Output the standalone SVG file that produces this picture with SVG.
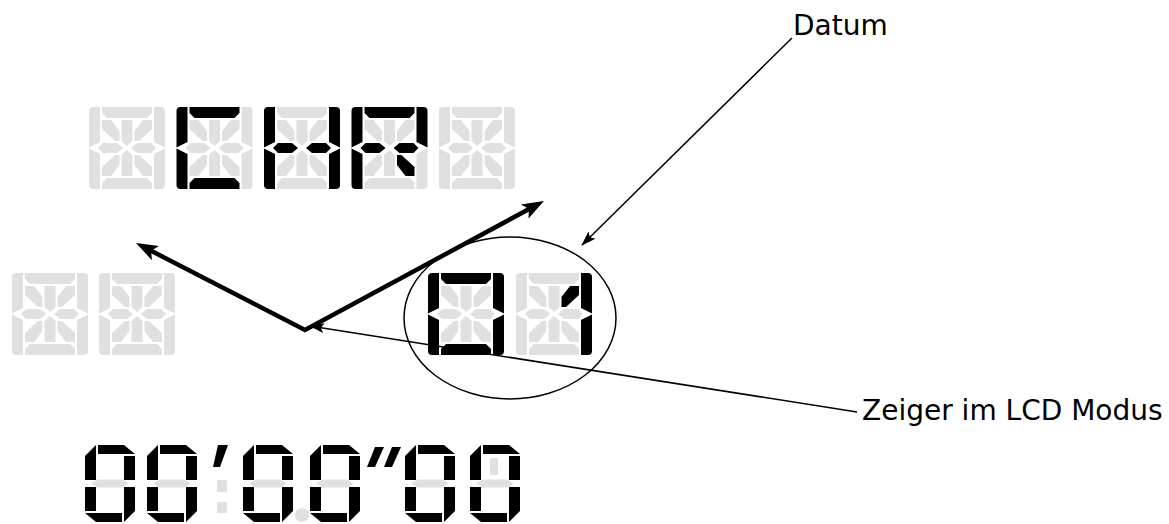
<svg xmlns="http://www.w3.org/2000/svg" xmlns:xlink="http://www.w3.org/1999/xlink" width="1169" height="524" viewBox="0 0 1169 524">
<style>
.off{fill:#e0e0e0}
.on{fill:#000}
.lbl{font-family:"DejaVu Sans","Verdana",sans-serif;font-size:28px;fill:#000}
.thick{fill:none;stroke:#000;stroke-width:4.5;stroke-linejoin:miter}
.thin{fill:none;stroke:#000;stroke-width:1.5}
</style>
<defs>
<path id="s_t" d="M13,0 H63 V6 L58,11 H18 L13,6 Z"/>
<path id="s_b" d="M13,82 H63 V76 L58,71 H18 L13,76 Z"/>
<path id="s_lu" d="M0,4 Q0,0 4,0 H11 V35 L0,40.5 Z"/>
<path id="s_ll" d="M0,41.5 L11,47 V82 H4 Q0,82 0,78 Z"/>
<path id="s_ru" d="M76,4 Q76,0 72,0 H65 V35 L76,40.5 Z"/>
<path id="s_rl" d="M76,41.5 L65,47 V82 H72 Q76,82 76,78 Z"/>
<path id="s_cu" d="M32.5,13 H43.5 V34 L38,39 L32.5,34 Z"/>
<path id="s_cl" d="M32.5,69 H43.5 V48 L38,43 L32.5,48 Z"/>
<path id="s_ml" d="M9,41 L14,36 H28 L34,41 L28,46 H14 Z"/>
<path id="s_mr" d="M67,41 L62,36 H48 L42,41 L48,46 H62 Z"/>
<path id="s_dul" d="M13,13 H22 L30.5,24 V34 H26 L13,22 Z"/>
<path id="s_dur" d="M63,13 H54 L45.5,24 V34 H50 L63,22 Z"/>
<path id="s_dll" d="M13,69 H22 L30.5,58 V48 H26 L13,60 Z"/>
<path id="s_dlr" d="M63,69 H54 L45.5,58 V48 H50 L63,60 Z"/>
<path id="g_a" d="M13,0 H39 L50,9 H13 Z"/>
<path id="g_b" d="M39,11 H50 V35 H39 Z"/>
<path id="g_c" d="M39,42 H50 V66 L39,77 Z"/>
<path id="g_d" d="M0,68 H37 V77 H11 Z"/>
<path id="g_e" d="M0,42 H11 V66 H0 Z"/>
<path id="g_f" d="M0,11 L11,0 V35 H0 Z"/>
<path id="g_g" d="M6,38.5 L12.5,34.5 H37.5 L44,38.5 L37.5,42.5 H12.5 Z"/>
<g id="zero7">
<use xlink:href="#g_g" class="off"/>
<use xlink:href="#g_a" class="on"/><use xlink:href="#g_b" class="on"/><use xlink:href="#g_c" class="on"/>
<use xlink:href="#g_d" class="on"/><use xlink:href="#g_e" class="on"/><use xlink:href="#g_f" class="on"/>
</g>
<marker id="headThick" markerUnits="userSpaceOnUse" markerWidth="24" markerHeight="18" refX="12" refY="8" orient="auto-start-reverse" viewBox="0 0 24 16">
<path d="M0,0 L22,8 L0,16 L5,8 Z" fill="#000"/>
</marker>
<marker id="headThin" markerUnits="userSpaceOnUse" markerWidth="16" markerHeight="12" refX="14" refY="5" orient="auto" viewBox="0 0 16 10">
<path d="M0,0 L15,5 L0,10 L3,5 Z" fill="#000"/>
</marker>
</defs>
<rect width="1169" height="524" fill="#fff"/>

<!-- top row 14-segment display -->
<g id="top-d1" transform="translate(89,107)">
<use xlink:href="#s_t" class="off"/><use xlink:href="#s_b" class="off"/><use xlink:href="#s_lu" class="off"/><use xlink:href="#s_ll" class="off"/><use xlink:href="#s_ru" class="off"/><use xlink:href="#s_rl" class="off"/><use xlink:href="#s_cu" class="off"/><use xlink:href="#s_cl" class="off"/><use xlink:href="#s_ml" class="off"/><use xlink:href="#s_mr" class="off"/><use xlink:href="#s_dul" class="off"/><use xlink:href="#s_dur" class="off"/><use xlink:href="#s_dll" class="off"/><use xlink:href="#s_dlr" class="off"/>
</g>
<g id="top-d2" transform="translate(176.5,107)">
<use xlink:href="#s_t" class="on"/><use xlink:href="#s_b" class="on"/><use xlink:href="#s_lu" class="on"/><use xlink:href="#s_ll" class="on"/><use xlink:href="#s_ru" class="off"/><use xlink:href="#s_rl" class="off"/><use xlink:href="#s_cu" class="off"/><use xlink:href="#s_cl" class="off"/><use xlink:href="#s_ml" class="off"/><use xlink:href="#s_mr" class="off"/><use xlink:href="#s_dul" class="off"/><use xlink:href="#s_dur" class="off"/><use xlink:href="#s_dll" class="off"/><use xlink:href="#s_dlr" class="off"/>
</g>
<g id="top-d3" transform="translate(264,107)">
<use xlink:href="#s_t" class="off"/><use xlink:href="#s_b" class="off"/><use xlink:href="#s_lu" class="on"/><use xlink:href="#s_ll" class="on"/><use xlink:href="#s_ru" class="on"/><use xlink:href="#s_rl" class="on"/><use xlink:href="#s_cu" class="off"/><use xlink:href="#s_cl" class="off"/><use xlink:href="#s_ml" class="on"/><use xlink:href="#s_mr" class="on"/><use xlink:href="#s_dul" class="off"/><use xlink:href="#s_dur" class="off"/><use xlink:href="#s_dll" class="off"/><use xlink:href="#s_dlr" class="off"/>
</g>
<g id="top-d4" transform="translate(351.5,107)">
<use xlink:href="#s_t" class="on"/><use xlink:href="#s_b" class="off"/><use xlink:href="#s_lu" class="on"/><use xlink:href="#s_ll" class="on"/><use xlink:href="#s_ru" class="on"/><use xlink:href="#s_rl" class="off"/><use xlink:href="#s_cu" class="off"/><use xlink:href="#s_cl" class="off"/><use xlink:href="#s_ml" class="on"/><use xlink:href="#s_mr" class="on"/><use xlink:href="#s_dul" class="off"/><use xlink:href="#s_dur" class="off"/><use xlink:href="#s_dll" class="off"/><use xlink:href="#s_dlr" class="on"/>
</g>
<g id="top-d5" transform="translate(439,107)">
<use xlink:href="#s_t" class="off"/><use xlink:href="#s_b" class="off"/><use xlink:href="#s_lu" class="off"/><use xlink:href="#s_ll" class="off"/><use xlink:href="#s_ru" class="off"/><use xlink:href="#s_rl" class="off"/><use xlink:href="#s_cu" class="off"/><use xlink:href="#s_cl" class="off"/><use xlink:href="#s_ml" class="off"/><use xlink:href="#s_mr" class="off"/><use xlink:href="#s_dul" class="off"/><use xlink:href="#s_dur" class="off"/><use xlink:href="#s_dll" class="off"/><use xlink:href="#s_dlr" class="off"/>
</g>

<!-- middle row 14-segment display -->
<g id="mid-d1" transform="translate(12,273)">
<use xlink:href="#s_t" class="off"/><use xlink:href="#s_b" class="off"/><use xlink:href="#s_lu" class="off"/><use xlink:href="#s_ll" class="off"/><use xlink:href="#s_ru" class="off"/><use xlink:href="#s_rl" class="off"/><use xlink:href="#s_cu" class="off"/><use xlink:href="#s_cl" class="off"/><use xlink:href="#s_ml" class="off"/><use xlink:href="#s_mr" class="off"/><use xlink:href="#s_dul" class="off"/><use xlink:href="#s_dur" class="off"/><use xlink:href="#s_dll" class="off"/><use xlink:href="#s_dlr" class="off"/>
</g>
<g id="mid-d2" transform="translate(99,273)">
<use xlink:href="#s_t" class="off"/><use xlink:href="#s_b" class="off"/><use xlink:href="#s_lu" class="off"/><use xlink:href="#s_ll" class="off"/><use xlink:href="#s_ru" class="off"/><use xlink:href="#s_rl" class="off"/><use xlink:href="#s_cu" class="off"/><use xlink:href="#s_cl" class="off"/><use xlink:href="#s_ml" class="off"/><use xlink:href="#s_mr" class="off"/><use xlink:href="#s_dul" class="off"/><use xlink:href="#s_dur" class="off"/><use xlink:href="#s_dll" class="off"/><use xlink:href="#s_dlr" class="off"/>
</g>
<g id="mid-d3" transform="translate(428,273)">
<use xlink:href="#s_t" class="on"/><use xlink:href="#s_b" class="on"/><use xlink:href="#s_lu" class="on"/><use xlink:href="#s_ll" class="on"/><use xlink:href="#s_ru" class="on"/><use xlink:href="#s_rl" class="on"/><use xlink:href="#s_cu" class="off"/><use xlink:href="#s_cl" class="off"/><use xlink:href="#s_ml" class="off"/><use xlink:href="#s_mr" class="off"/><use xlink:href="#s_dul" class="off"/><use xlink:href="#s_dur" class="off"/><use xlink:href="#s_dll" class="off"/><use xlink:href="#s_dlr" class="off"/>
</g>
<g id="mid-d4" transform="translate(516,273)">
<use xlink:href="#s_t" class="off"/><use xlink:href="#s_b" class="off"/><use xlink:href="#s_lu" class="off"/><use xlink:href="#s_ll" class="off"/><use xlink:href="#s_ru" class="on"/><use xlink:href="#s_rl" class="on"/><use xlink:href="#s_cu" class="off"/><use xlink:href="#s_cl" class="off"/><use xlink:href="#s_ml" class="off"/><use xlink:href="#s_mr" class="off"/><use xlink:href="#s_dul" class="off"/><use xlink:href="#s_dur" class="on"/><use xlink:href="#s_dll" class="off"/><use xlink:href="#s_dlr" class="off"/>
</g>

<!-- bottom 7-segment time display -->
<g id="time-display">
<use xlink:href="#zero7" transform="translate(85,445)"/>
<use xlink:href="#zero7" transform="translate(147,445)"/>
<polygon class="on" points="218,445 228,445 220,467 213,467"/>
<rect class="off" x="217" y="480" width="10" height="12"/>
<rect class="off" x="217" y="502" width="10" height="11"/>
<use xlink:href="#zero7" transform="translate(243,445)"/>
<circle class="off" cx="302" cy="515" r="7"/>
<use xlink:href="#zero7" transform="translate(310,445)"/>
<polygon class="on" points="375,447 384,447 375,467 367,467"/>
<polygon class="on" points="392,447 401,447 392,467 384,467"/>
<use xlink:href="#zero7" transform="translate(405,445)"/>
<g transform="translate(470,445)">
<use xlink:href="#zero7"/>
<rect class="off" x="20" y="13" width="8" height="17"/>
</g>
</g>

<!-- highlight ellipse around date -->
<g id="date-highlight">
<ellipse cx="510" cy="318" rx="106" ry="81" fill="none" stroke="#000" stroke-width="1.5"/>
</g>

<!-- connectors -->
<g id="connectors">
<polyline class="thick" points="144.9,247.6 305,330 535.2,205.75" marker-start="url(#headThick)" marker-end="url(#headThick)"/>
<line class="thin" x1="792" y1="38" x2="582" y2="245" marker-end="url(#headThin)"/>
<line class="thin" x1="857" y1="412" x2="310" y2="326" marker-end="url(#headThin)"/>
</g>

<!-- labels -->
<g id="labels">
<text class="lbl" x="793" y="35">Datum</text>
<text class="lbl" x="862" y="420">Zeiger im LCD Modus</text>
</g>
</svg>
